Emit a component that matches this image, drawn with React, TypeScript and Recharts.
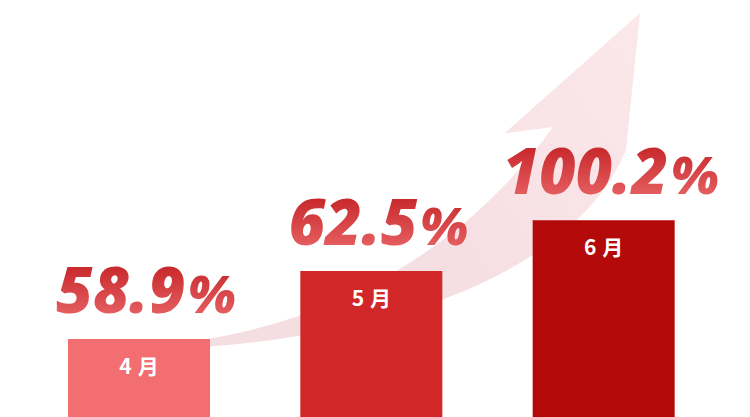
import { BarChart, Bar, XAxis, YAxis, Cell, LabelList } from 'recharts';

const months = ['4月', '5月', '6月'];
const growth = [58.9, 62.5, 100.2];
// visual bar heights (0-100 scale), not proportional to the growth figures
const barLevel = [18.7, 35.0, 47.2];
const barColors = ['#f26e71', '#d22729', '#b30909'];

const data = months.map((m, i) => ({ month: m, growth: growth[i], level: barLevel[i] }));

function PctLabel(props: any) {
  const { x, y, width, value } = props;
  if (value == null) return null;
  return (
    <text
      x={x + width / 2 + 7}
      y={y - 26}
      textAnchor="middle"
      fill="url(#pctGrad)"
      fontFamily="'Open Sans', 'Noto Sans', sans-serif"
      fontStyle="italic"
      fontWeight={800}
      fontSize={63}
    >
      <tspan>{Number(value).toFixed(1)}</tspan>
      <tspan fontSize={52} dx={2}>%</tspan>
    </text>
  );
}

function MonthLabel(props: any) {
  const { x, y, width, value } = props;
  return (
    <text
      x={x + width / 2 + 3}
      y={y + 35}
      textAnchor="middle"
      fill="#ffffff"
      fontFamily="'Noto Sans CJK SC', 'Noto Sans', sans-serif"
      fontWeight={700}
      fontSize={21}
      letterSpacing={6}
    >
      {value}
    </text>
  );
}

export default function App() {
  return (
    <div style={{ position: 'fixed', left: 0, top: 0, width: 750, height: 417, background: '#ffffff' }}>
      <svg width={750} height={417} style={{ position: 'absolute', left: 0, top: 0 }}>
        <defs>
          <linearGradient id="pctGrad" x1="0" y1="0" x2="0" y2="1">
            <stop offset="0%" stopColor="#bb1216" />
            <stop offset="100%" stopColor="#ef7172" />
          </linearGradient>
          <linearGradient id="arrowGrad" x1="150" y1="350" x2="640" y2="13" gradientUnits="userSpaceOnUse">
            <stop offset="0%" stopColor="#f1d6da" stopOpacity={0.8} />
            <stop offset="50%" stopColor="#f6dfe2" />
            <stop offset="100%" stopColor="#fbe8eb" />
          </linearGradient>
        </defs>
        <path
          d="M 150 346 C 300 335, 450 270, 553 127 L 505 133 L 640 13 L 626 150 C 580 260, 420 340, 150 350 Z"
          fill="url(#arrowGrad)"
        />
      </svg>
      <div style={{ position: 'absolute', left: 0, top: 0 }}>
        <BarChart width={750} height={417} data={data} margin={{ top: 0, right: 30, bottom: 0, left: 23 }}>
          <XAxis dataKey="month" hide />
          <YAxis hide domain={[0, 100]} />
          <Bar dataKey="level" barSize={142} isAnimationActive={false}>
            {data.map((d, i) => (
              <Cell key={d.month} fill={barColors[i]} />
            ))}
            <LabelList dataKey="growth" content={<PctLabel />} />
            <LabelList dataKey="month" content={<MonthLabel />} />
          </Bar>
        </BarChart>
      </div>
    </div>
  );
}
